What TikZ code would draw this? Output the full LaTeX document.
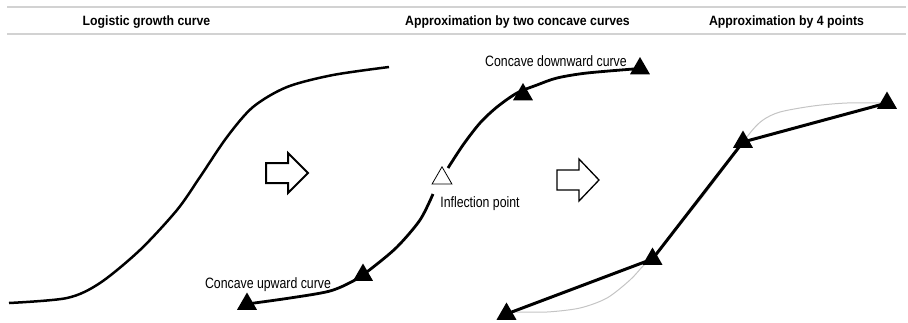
\documentclass[tikz,border=0pt]{standalone}
\usepackage{fontspec}
\setmainfont{Liberation Sans}
\newfontfamily\narrowfont[FakeStretch=0.82]{Liberation Sans}
\newfontfamily\titlefont[FakeStretch=0.91]{Liberation Sans}
\usetikzlibrary{shapes.geometric}
\definecolor{rulegray}{HTML}{D2D2D2}
\definecolor{curvegray}{HTML}{C4C4C4}
\tikzset{
  tri/.style={regular polygon, regular polygon sides=3, fill=black,
    inner sep=0pt, minimum size=23pt},
  inflect/.style={tri, fill=white, draw=black, line width=0.8pt},
  title/.style={anchor=base, font=\titlefont\bfseries\fontsize{13.5}{16}\selectfont},
  lbl/.style={anchor=base, font=\narrowfont\fontsize{15}{18}\selectfont},
}

\begin{document}
\begin{tikzpicture}[x=1pt, y=-1pt]

  \useasboundingbox (0,0) rectangle (908,322);

  %% header rules and titles
  \draw[rulegray, line width=1.5pt] (7,7) -- (906,7);
  \draw[rulegray, line width=1.5pt] (7,34) -- (906,34);
  \node[title] (t1) at (146.5,25) {Logistic growth curve};
  \node[title] (t2) at (517.5,25) {Approximation by two concave curves};
  \node[title] (t3) at (786.5,25) {Approximation by 4 points};

  %% logistic curve
  \draw[line width=2.5pt] plot[smooth] coordinates {(9,303) (67,298) (100,283)
    (140,250) (177,210) (200,177) (227,137) (253,107) (287,87) (333,75) (389,67)};

  %% block arrows
  \draw[line width=2pt, line join=miter, shift={(266,173)}]
    (0,-10) -- (22,-10) -- (22,-20) -- (42,0) -- (22,20) -- (22,10) -- (0,10) -- cycle;
  \draw[line width=1.3pt, line join=miter, shift={(557,180)}]
    (0,-10) -- (22,-10) -- (22,-21) -- (42,0) -- (22,21) -- (22,10) -- (0,10) -- cycle;

  %% two concave curves
  \node[inflect] (infl) at (442,178.3) {};
  \node[tri] (lo2) at (247,304) {};
  \node[tri] (lo1) at (363,275) {};
  \node[tri] (hi1) at (523,94.5) {};
  \node[tri] (hi2) at (640,68.5) {};

  \draw[line width=2.8pt] plot[smooth] coordinates {(lo2.center) (290,298)
    (330,291) (355,280) (372,268) (397,247) (420,220) (433,194)};
  \draw[line width=2.8pt] plot[smooth] coordinates {(448,168) (463,145)
    (480,123) (497,107) (517,93) (537,85) (557,78) (587,73) (hi2.center)};

  \node[lbl] (cdown) at (556,66) {Concave downward curve};
  \node[lbl] (ip) at (480,207) {Inflection point};
  \node[lbl] (cup) at (268,288) {Concave upward curve};

  %% four points
  \draw[curvegray, line width=1pt] plot[smooth] coordinates {(887,103) (847,103)
    (813,106) (780,112) (763,120) (750,133) (725,167) (700,200) (676,229)
    (652,258) (643,266) (630,280) (607,298) (580,308) (547,312) (513,312)
    (506,313)};

  \node[tri] (p1) at (506.5,314) {};
  \node[tri] (p2) at (652.5,259) {};
  \node[tri] (p3) at (743,142) {};
  \node[tri] (p4) at (887,103) {};
  \draw[line width=3pt] (p4.center) -- (p3.center) -- (p2.center) -- (p1.center);

\end{tikzpicture}
\end{document}
